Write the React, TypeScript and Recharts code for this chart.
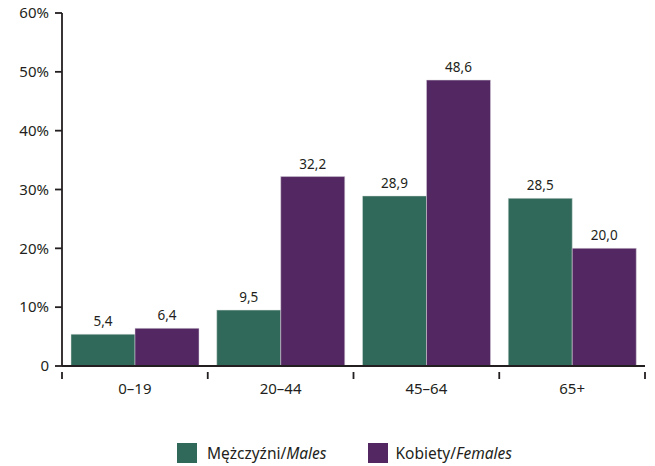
import React from 'react';
import { BarChart, Bar, XAxis, YAxis, Legend, LabelList } from 'recharts';

const categories = ['0–19', '20–44', '45–64', '65+'];
const malesValues = [5.4, 9.5, 28.9, 28.5];
const femalesValues = [6.4, 32.2, 48.6, 20.0];
const yTicks = [0, 10, 20, 30, 40, 50, 60];

const GREEN = '#30685a';
const PURPLE = '#532761';
const FONT = '"Noto Sans", "Open Sans", sans-serif';
const TEXT = '#231f20';

const data = categories.map((c, i) => ({ cat: c, males: malesValues[i], females: femalesValues[i] }));

const fmt = (v: any) => Number(v).toFixed(1).replace('.', ',');

const XTick = (props: any) => {
  const { x, y, payload, index, visibleTicksCount } = props;
  const half = payload && payload.offset ? payload.offset : 72.9;
  const axisY = y - 12;
  return (
    <g>
      <line x1={x - half} x2={x - half} y1={axisY} y2={axisY + 7} stroke={TEXT} strokeWidth={1.8} />
      {index === (visibleTicksCount ?? categories.length) - 1 && (
        <line x1={x + half} x2={x + half} y1={axisY} y2={axisY + 7} stroke={TEXT} strokeWidth={1.8} />
      )}
      <text x={x} y={y + 10} textAnchor="middle" fontFamily={FONT} fontSize={15} fill={TEXT}>
        {payload.value}
      </text>
    </g>
  );
};

const LegendContent = () => (
  <div style={{ display: 'flex', justifyContent: 'center', alignItems: 'center', paddingTop: 16, paddingLeft: 44, fontFamily: FONT, fontSize: 15.5, color: TEXT }}>
    <span style={{ display: 'inline-block', width: 20, height: 20, background: GREEN, marginRight: 10 }} />
    <span>Mężczyźni/<i>Males</i></span>
    <span style={{ display: 'inline-block', width: 20, height: 20, background: PURPLE, marginRight: 8, marginLeft: 41 }} />
    <span>Kobiety/<i>Females</i></span>
  </div>
);

export default function App() {
  return (
    <div style={{ position: 'absolute', left: 0, top: 0, width: 655, height: 466, background: '#fff' }}>
      <BarChart
        width={655}
        height={466}
        data={data}
        margin={{ top: 13, right: 10, bottom: 4, left: 0 }}
        barCategoryGap={9}
        barGap={0}
      >
        <XAxis
          dataKey="cat"
          height={60}
          tickLine={false}
          axisLine={{ stroke: TEXT, strokeWidth: 1.8 }}
          tick={<XTick />}
          tickMargin={12}
          interval={0}
        />
        <YAxis
          width={62}
          domain={[0, 60]}
          ticks={yTicks}
          interval={0}
          tickSize={7}
          tickMargin={6}
          axisLine={{ stroke: TEXT, strokeWidth: 1.8 }}
          tickLine={{ stroke: TEXT, strokeWidth: 1.8 }}
          tickFormatter={(v: number) => (v === 0 ? '0' : `${v}%`)}
          tick={{ fontFamily: FONT, fontSize: 15, fill: TEXT }}
        />
        <Legend verticalAlign="bottom" height={36} content={<LegendContent />} />
        <Bar dataKey="males" fill={GREEN} isAnimationActive={false} stroke="#d9e0dd" strokeWidth={0.5}>
          <LabelList dataKey="males" position="top" offset={8} formatter={fmt} style={{ fontFamily: FONT, fontSize: 13.5, fill: TEXT }} />
        </Bar>
        <Bar dataKey="females" fill={PURPLE} isAnimationActive={false} stroke="#d9d2dc" strokeWidth={0.5}>
          <LabelList dataKey="females" position="top" offset={8} formatter={fmt} style={{ fontFamily: FONT, fontSize: 13.5, fill: TEXT }} />
        </Bar>
      </BarChart>
    </div>
  );
}
